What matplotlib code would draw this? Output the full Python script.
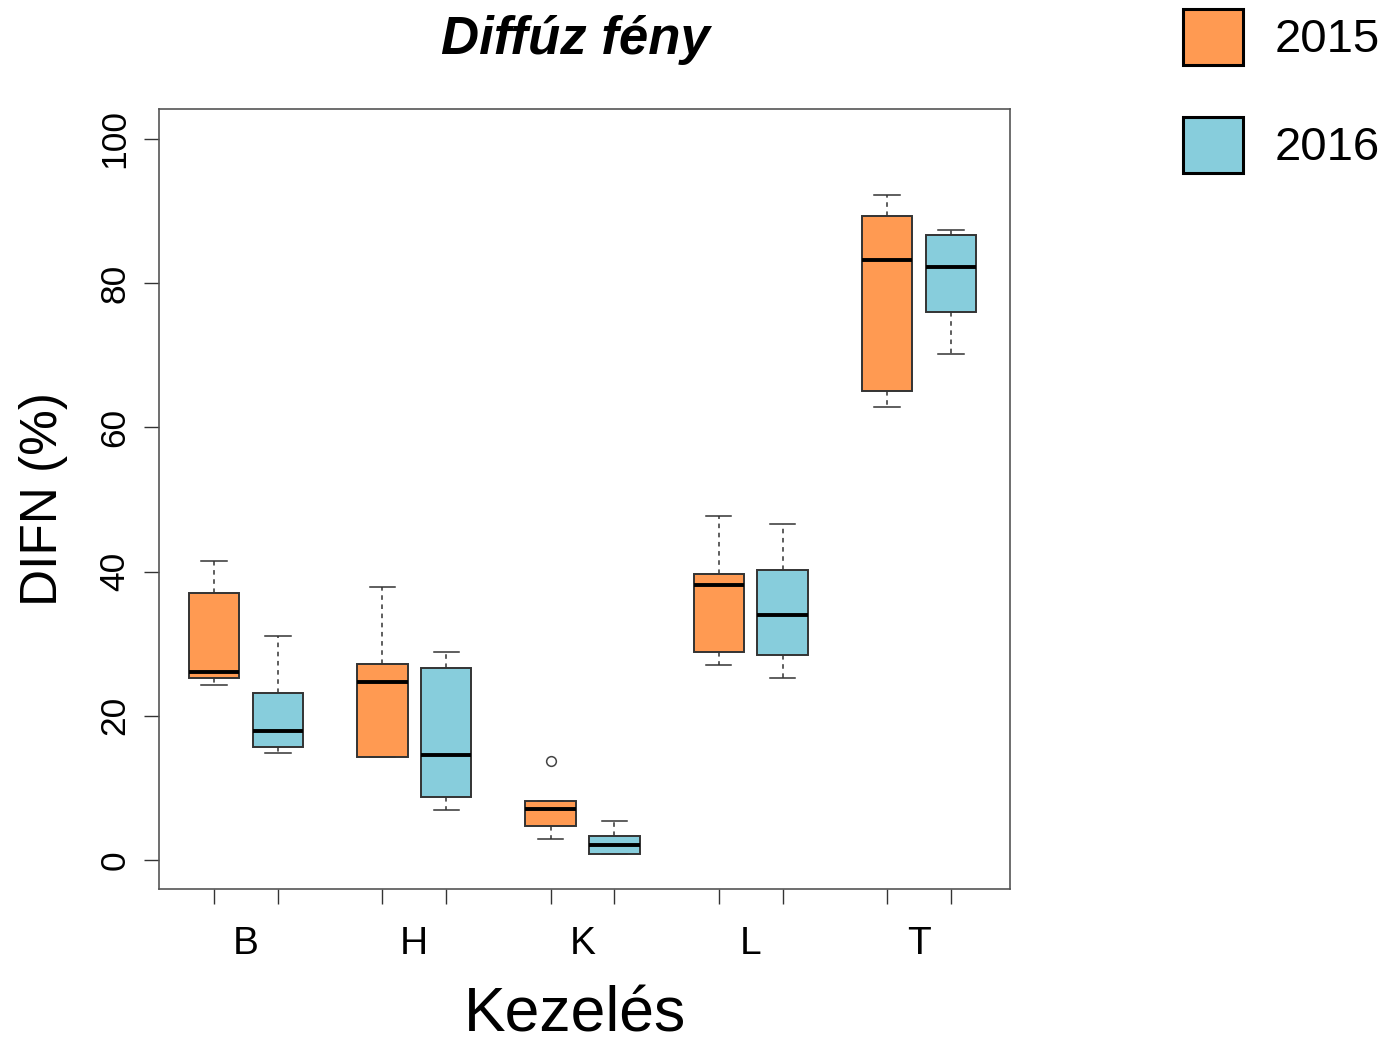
import matplotlib
matplotlib.use("Agg")
import matplotlib.pyplot as plt
from matplotlib.patches import Rectangle

plt.rcParams['font.family'] = ['Liberation Sans', 'DejaVu Sans']

# Treatment groups and years
categories = ["B", "H", "K", "L", "T"]
years = ["2015", "2016"]
colors = {"2015": "#FF9A52", "2016": "#87CDDC"}

# Five-number summaries per group: (low whisker, Q1, median, Q3, high whisker)
stats_2015 = [
    (24.3, 25.2, 26.1, 37.0, 41.5),
    (14.3, 14.3, 24.7, 27.2, 37.9),
    (2.9, 4.7, 7.1, 8.2, 8.2),
    (27.0, 28.8, 38.1, 39.7, 47.7),
    (62.8, 65.0, 83.2, 89.3, 92.2),
]
stats_2016 = [
    (14.8, 15.7, 17.9, 23.2, 31.1),
    (6.9, 8.7, 14.6, 26.6, 28.8),
    (0.8, 0.8, 2.1, 3.3, 5.4),
    (25.2, 28.4, 34.0, 40.2, 46.6),
    (70.2, 76.0, 82.2, 86.7, 87.4),
]
# Outliers per group
outliers_2015 = [[], [], [13.7], [], []]
outliers_2016 = [[], [], [], [], []]

W, H = 1398, 1043
fig = plt.figure(figsize=(W / 100, H / 100), dpi=100)
ax = fig.add_axes([159 / W, 1 - 889 / H, (1010 - 159) / W, (889 - 109) / H])

offset = 0.19
box_w = 0.30


def to_bxp(rows, outs):
    out = []
    for (lo, q1, med, q3, hi), fl in zip(rows, outs):
        out.append(dict(whislo=lo, q1=q1, med=med, q3=q3, whishi=hi, fliers=fl))
    return out


all_pos = []
for yr, rows, outs, sgn in [("2015", stats_2015, outliers_2015, -1),
                            ("2016", stats_2016, outliers_2016, 1)]:
    pos = [i + 1 + sgn * offset for i in range(len(categories))]
    all_pos += pos
    ax.bxp(to_bxp(rows, outs), positions=pos, widths=box_w, patch_artist=True,
           manage_ticks=False,
           boxprops=dict(facecolor=colors[yr], edgecolor="#333333", linewidth=1.4),
           medianprops=dict(color="black", linewidth=2.8, solid_capstyle="butt"),
           whiskerprops=dict(color="#333333", linewidth=1.1, linestyle=(0, (3, 3))),
           capprops=dict(color="#333333", linewidth=1.1),
           capwidths=box_w / 2,
           flierprops=dict(marker="o", markerfacecolor="none",
                           markeredgecolor="#444444", markersize=7,
                           markeredgewidth=1.1))

ax.set_xlim(0.483, 5.541)
ax.set_ylim(-4.02, 104.16)

ax.set_xticks(sorted(all_pos))
ax.set_xticklabels([])
ax.tick_params(axis="x", length=11, width=1, color="#333333", direction="out")
ax.set_yticks([0, 20, 40, 60, 80, 100])
ax.set_yticklabels(["0", "20", "40", "60", "80", "100"], rotation=90, va="center",
                   fontsize=25.5)
ax.tick_params(axis="y", length=11, width=1, color="#333333", direction="out", pad=9)

for sp in ax.spines.values():
    sp.set_color("#555555")
    sp.set_linewidth(1.2)

# Treatment labels under each pair of boxes
for i, c in enumerate(categories):
    ax.text(i + 1, -0.07, c, transform=ax.get_xaxis_transform(),
            ha="center", va="center", fontsize=28)

ax.set_ylabel("DIFN (%)", fontsize=37, labelpad=22)
fig.text(575 / W, 1 - 1015 / H, "Kezelés", ha="center", va="center", fontsize=45)

fig.text(575 / W, 1 - 40 / H, "Diffúz fény", ha="center", va="center",
         fontsize=38, fontweight="bold", fontstyle="italic")

# Legend keys drawn in figure pixels
for yr, ytop in [("2015", 9), ("2016", 117)]:
    fig.add_artist(Rectangle((1183 / W, 1 - (ytop + 56) / H), 60 / W, 56 / H,
                             transform=fig.transFigure, facecolor=colors[yr],
                             edgecolor="black", linewidth=2.2))
    fig.text(1275 / W, 1 - (ytop + 31) / H, yr, ha="left", va="center", fontsize=34)

fig.savefig("out.png", dpi=100)
